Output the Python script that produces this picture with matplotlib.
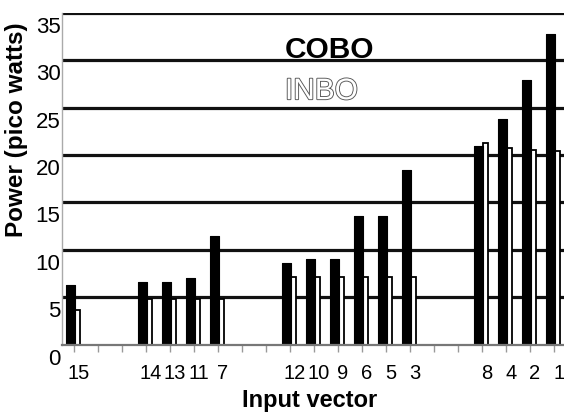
import numpy as np
import matplotlib.pyplot as plt
import matplotlib.patheffects as pe
from matplotlib.transforms import ScaledTranslation

plt.rcParams['font.family'] = ['Liberation Sans', 'DejaVu Sans']

# input vectors, in the order they are drawn, split in groups
groups = [['15'],
          ['14', '13', '11', '7'],
          ['12', '10', '9', '6', '5', '3'],
          ['8', '4', '2', '1']]

cobo = [6.25, 6.6, 6.6, 7.0, 11.5,
        8.6, 9.0, 9.0, 13.6, 13.6, 18.4,
        21.0, 23.8, 27.9, 32.8]
inbo = [3.7, 4.85, 4.85, 4.85, 4.85,
        7.1, 7.1, 7.1, 7.1, 7.1, 7.1,
        21.25, 20.7, 20.5, 20.4]

yticks = [0, 5, 10, 15, 20, 25, 30, 35]

# slot positions: empty slots between groups
gap = 2
pos = []
x = 0
for g in groups:
    for name in g:
        pos.append(x)
        x += 1
    x += gap
nslots = pos[-1] + 1
labels = [''] * nslots
names = [n for g in groups for n in g]
for p, n in zip(pos, names):
    labels[p] = n
pos = np.array(pos)

fig = plt.figure(figsize=(5.64, 4.12), dpi=100)
ax = fig.add_axes([62 / 564, 1 - 344.6 / 412, 502 / 564, 331.6 / 412])

for yv in yticks[1:]:
    ax.axhline(yv, color='#111111', lw=2.3, zorder=1)

ax.bar(pos - 0.145, cobo, width=0.36, color='black', edgecolor='black',
       lw=0.8, zorder=3, joinstyle='round')
ax.bar(pos + 0.16, inbo, width=0.22, color='white', edgecolor='black',
       lw=1.3, zorder=2)

ax.set_xlim(-0.5, nslots - 0.58)
ax.set_ylim(0, 35)

ax.set_xticks(np.arange(nslots))
ax.set_xticklabels(labels, fontsize=14.5)
ax.set_yticks(yticks)
ax.set_yticklabels([str(v) for v in yticks], fontsize=16)
ax.tick_params(axis='x', length=5, width=1, color='#999999', pad=9)
ax.tick_params(axis='y', length=0, pad=1)

for lab in ax.get_xticklabels():
    lab.set_transform(lab.get_transform() + ScaledTranslation(5 / 100, 0, fig.dpi_scale_trans))
for lab in ax.get_yticklabels():
    lab.set_transform(lab.get_transform() + ScaledTranslation(0, -12 / 100, fig.dpi_scale_trans))

for s in ['top', 'right']:
    ax.spines[s].set_visible(False)
ax.spines['left'].set_color('#aaaaaa')
ax.spines['left'].set_linewidth(1)
ax.spines['bottom'].set_color('#777777')
ax.spines['bottom'].set_linewidth(1.6)
ax.spines['bottom'].set_zorder(4)

ax.text(8.79, 30.25, 'COBO', fontsize=21.5, fontweight='bold', ha='left', va='baseline')
ax.text(8.79, 25.9, 'INBO', fontsize=21.5, color='white', ha='left', va='baseline',
        path_effects=[pe.withStroke(linewidth=1.3, foreground='#555555')])

fig.text(310 / 564, 1 - 401 / 412, 'Input vector', fontsize=17, fontweight='bold',
         ha='center', va='center')
fig.text(17 / 564, 1 - 130 / 412, 'Power (pico watts)', fontsize=17.5, fontweight='bold',
         ha='center', va='center', rotation=90)

plt.savefig('out.png', dpi=100)
